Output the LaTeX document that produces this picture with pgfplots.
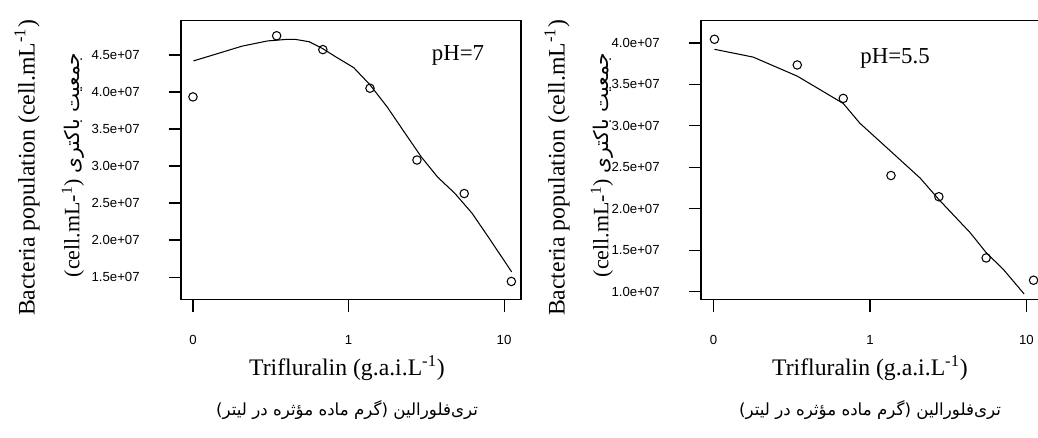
\documentclass[border=0pt]{standalone}
\usepackage{fontspec}
\setmainfont{Liberation Serif}
\newfontfamily\tickfont{Liberation Sans}
\newfontfamily\arabicfont[Script=Arabic]{DejaVu Sans}
\TeXXeTstate=1
\usepackage{pgfplots}
\pgfplotsset{compat=1.18}

% x positions are log10 of the dose; the control (0) sits at -1
\pgfplotstableread{
x y
-1.000 3.934e7
-0.462 4.760e7
-0.165 4.573e7
0.138 4.051e7
0.440 3.081e7
0.744 2.628e7
1.047 1.440e7
}\ptsseven
\pgfplotstableread{
x y
-0.997 4.42e7
-0.840 4.52e7
-0.684 4.62e7
-0.521 4.69e7
-0.404 4.71e7
-0.339 4.71e7
-0.254 4.68e7
-0.169 4.59e7
-0.078 4.47e7
0.033 4.33e7
0.137 4.10e7
0.248 3.80e7
0.358 3.46e7
0.469 3.12e7
0.573 2.85e7
0.684 2.63e7
0.795 2.36e7
0.899 2.04e7
1.049 1.57e7
}\fitseven
\pgfplotstableread{
x y
-0.994 4.045e7
-0.465 3.735e7
-0.171 3.331e7
0.134 2.400e7
0.440 2.144e7
0.742 1.405e7
1.045 1.136e7
}\ptsfive
\pgfplotstableread{
x y
-0.994 3.924e7
-0.747 3.83e7
-0.465 3.60e7
-0.171 3.27e7
-0.064 3.03e7
0.134 2.69e7
0.320 2.37e7
0.440 2.11e7
0.640 1.71e7
0.742 1.47e7
0.853 1.265e7
0.985 0.97e7
}\fitfive

\pgfplotsset{rplot/.style={
  scale only axis, height=5.572cm,
  axis line style={line width=0.6pt},
  tick align=outside, major tick length=7pt,
  tick style={black, line width=0.6pt},
  xtick pos=bottom, ytick pos=left,
  scaled y ticks=false,
  xtick={-1,0,1}, xticklabels={0,1,10},
  ticklabel style={font=\tickfont\fontsize{7.5}{9}\selectfont, text=black},
  yticklabel style={anchor=east, xshift=-13pt},
  xticklabel style={anchor=north, yshift=-10pt},
}}

\begin{document}
\begin{tikzpicture}
\begin{axis}[rplot, at={(3.62cm,2.754cm)}, anchor=south west, width=6.8cm,
  xmin=-1.077, xmax=1.109, ymin=1.199e7, ymax=4.9635e7,
  ytick={1.5e7,2e7,2.5e7,3e7,3.5e7,4e7,4.5e7},
  yticklabels={1.5e+07,2.0e+07,2.5e+07,3.0e+07,3.5e+07,4.0e+07,4.5e+07}]
\addplot[black, line width=0.6pt, no marks] table {\fitseven};
\addplot[black, only marks, mark=o, mark size=2.4pt, mark options={line width=0.6pt}] table {\ptsseven};
\end{axis}
\begin{axis}[rplot, at={(14.02cm,2.754cm)}, anchor=south west, width=6.854cm,
  xmin=-1.080, xmax=1.110, ymin=0.9058e7, ymax=4.2692e7,
  ytick={1e7,1.5e7,2e7,2.5e7,3e7,3.5e7,4e7},
  yticklabels={1.0e+07,1.5e+07,2.0e+07,2.5e+07,3.0e+07,3.5e+07,4.0e+07}]
\addplot[black, line width=0.6pt, no marks] table {\fitfive};
\addplot[black, only marks, mark=o, mark size=2.4pt, mark options={line width=0.6pt}] table {\ptsfive};
\end{axis}

% left panel labels
\node[rotate=90, font=\fontsize{13.5}{16}\selectfont] at (0.54cm,5.38cm) {Bacteria population (cell.mL\textsuperscript{-1})};
\node[rotate=90, font=\fontsize{12.5}{15}\selectfont] at (1.46cm,5.44cm) {(cell.mL-\textsuperscript{1}) {\arabicfont\fontsize{11.5}{13}\selectfont\beginR جمعیت باکتری\endR}};
\node[font=\fontsize{13.5}{16}\selectfont] at (6.94cm,1.38cm) {Trifluralin (g.a.i.L\textsuperscript{-1})};
\node[font=\arabicfont\fontsize{9.5}{12}\selectfont] at (6.94cm,0.54cm) {\beginR تری‌فلورالین (گرم ماده مؤثره در لیتر)\endR};
\node[font=\fontsize{13}{15}\selectfont] at (9.16cm,7.64cm) {pH=7};

% right panel labels
\node[rotate=90, font=\fontsize{13.5}{16}\selectfont] at (11.14cm,5.38cm) {Bacteria population (cell.mL\textsuperscript{-1})};
\node[rotate=90, font=\fontsize{12.5}{15}\selectfont] at (12.04cm,5.44cm) {(cell.mL-\textsuperscript{1}) {\arabicfont\fontsize{11.5}{13}\selectfont\beginR جمعیت باکتری\endR}};
\node[font=\fontsize{13.5}{16}\selectfont] at (17.40cm,1.38cm) {Trifluralin (g.a.i.L\textsuperscript{-1})};
\node[font=\arabicfont\fontsize{9.5}{12}\selectfont] at (17.40cm,0.54cm) {\beginR تری‌فلورالین (گرم ماده مؤثره در لیتر)\endR};
\node[font=\fontsize{13}{15}\selectfont] at (17.90cm,7.58cm) {pH=5.5};

\pgfresetboundingbox
\useasboundingbox (0,0) rectangle (20.76cm,8.74cm);
\end{tikzpicture}
\end{document}
